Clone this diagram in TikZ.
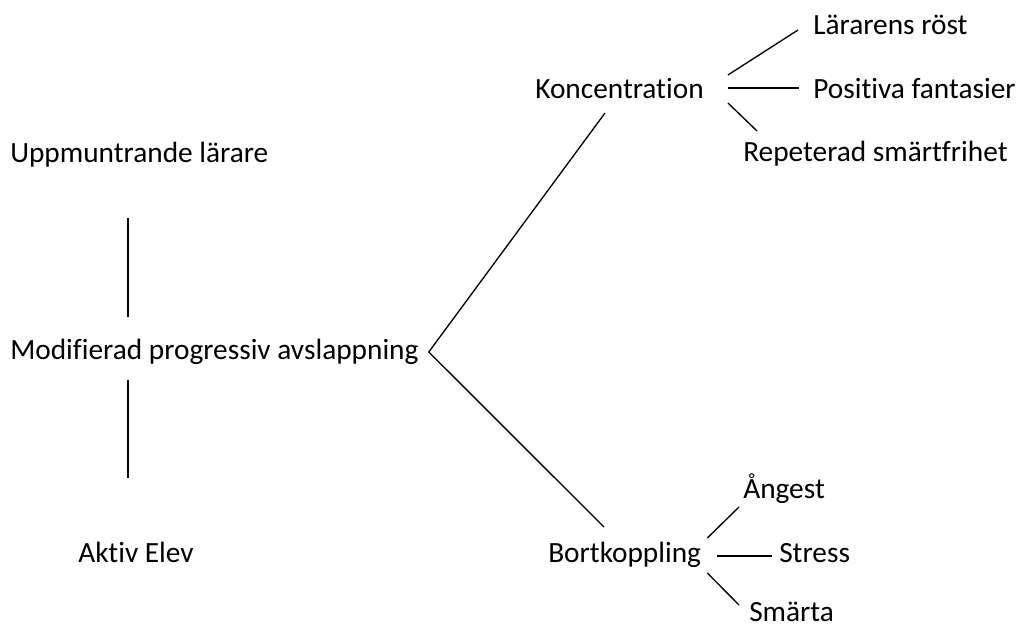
\documentclass[tikz,border=0pt]{standalone}
\usepackage{fontspec}
\setmainfont{Carlito}[Ligatures=NoCommon]
\usepackage{tikz}
\tikzset{
  term/.style={inner sep=0pt,anchor=base west,font=\fontsize{22}{26}\selectfont},
  link/.style={line width=1pt}
}

\begin{document}
\begin{tikzpicture}[x=0.75pt,y=-0.75pt]
\useasboundingbox (0,0) rectangle (1019,627);
% left column
\node[term] (upp) at (10,163) {Uppmuntrande lärare};
\node[term] (mpa) at (10,359) {Modifierad progressiv avslappning};
\node[term] (elev) at (78,562) {Aktiv Elev};
% branches
\node[term] (konc) at (535,99) {Koncentration};
\node[term] (bort) at (548,562) {Bortkoppling};
\node[term] (rost) at (813,35) {Lärarens röst};
\node[term] (fant) at (813,99) {Positiva fantasier};
\node[term] (frihet) at (743,162) {Repeterad smärtfrihet};
\node[term] (angest) at (743,498) {Ångest};
\node[term] (stress) at (779,562) {Stress};
\node[term] (smarta) at (749,621) {Smärta};
\draw[link] ([shift={(118,55)}]upp.base west) -- ([shift={(118,-42)}]mpa.base west);
\draw[link] ([shift={(118,21)}]mpa.base west) -- ([shift={(50,-84)}]elev.base west);
\draw[link] ([shift={(70,14)}]konc.base west) -- ([shift={(10,-7)}]mpa.base east)
  -- ([shift={(56,-35)}]bort.base west);
\draw[link] ([shift={(24,-24)}]konc.base east) -- ([shift={(-15,-5)}]rost.base west);
\draw[link] ([shift={(24,-11)}]konc.base east) -- ([shift={(-14,-11)}]fant.base west);
\draw[link] ([shift={(24,4)}]konc.base east) -- ([shift={(14,-31)}]frihet.base west);
\draw[link] ([shift={(6,-24)}]bort.base east) -- ([shift={(-4,9)}]angest.base west);
\draw[link] ([shift={(16,-6)}]bort.base east) -- ([shift={(-7,-6)}]stress.base west);
\draw[link] ([shift={(6,11)}]bort.base east) -- ([shift={(-10,-16)}]smarta.base west);
\end{tikzpicture}
\end{document}
